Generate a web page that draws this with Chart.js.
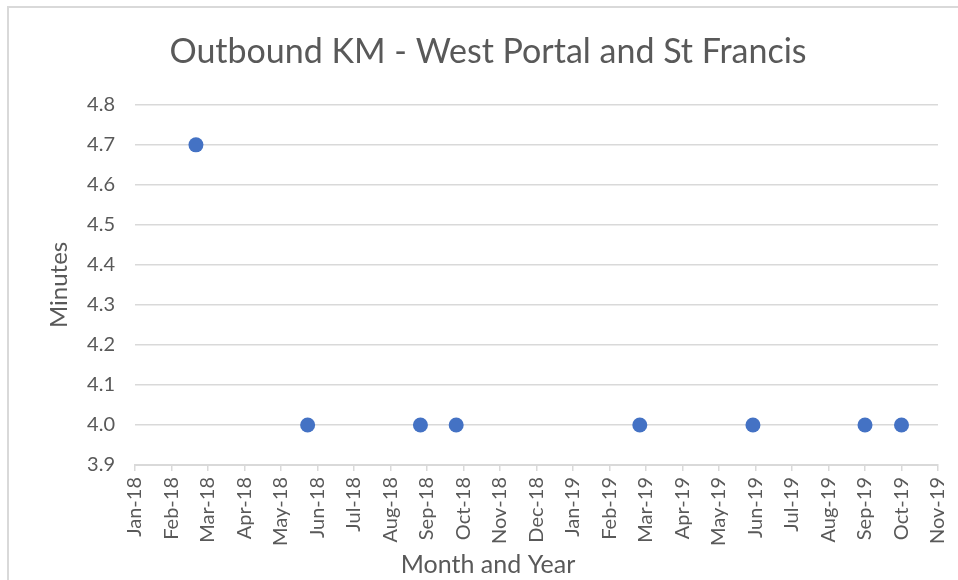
<!DOCTYPE html>
<html>
<head>
<meta charset="utf-8">
<script src="https://cdn.jsdelivr.net/npm/chart.js@4"></script>
<style>
  body { margin: 0; background: #fff; }
  #wrap { width: 958px; height: 580px; }
</style>
</head>
<body>
<div id="wrap"><canvas id="chart"></canvas></div>
<script>
// month labels on the x axis, index 0 = Jan-18
const monthLabels = ["Jan-18", "Feb-18", "Mar-18", "Apr-18", "May-18", "Jun-18", "Jul-18", "Aug-18",
  "Sep-18", "Oct-18", "Nov-18", "Dec-18", "Jan-19", "Feb-19", "Mar-19", "Apr-19", "May-19",
  "Jun-19", "Jul-19", "Aug-19", "Sep-19", "Oct-19", "Nov-19"];

// x = months since Jan-18 (fractional)
const monthPos = [1.67, 4.73, 7.82, 8.8, 13.83, 16.93, 20.0, 21.0];
const minutes = [4.7, 4.0, 4.0, 4.0, 4.0, 4.0, 4.0, 4.0];

const yTicks = [3.9, 4.0, 4.1, 4.2, 4.3, 4.4, 4.5, 4.6, 4.7, 4.8];

const points = monthPos.map((m, i) => ({ x: m, y: minutes[i] }));

const textColor = "#595959";
const gridColor = "#d9d9d9";
const fontFamily = "Lato, 'Liberation Sans', sans-serif";

// light frame (top and left edges only, like the screenshot)
const framePlugin = {
  id: "frame",
  beforeDraw(chart) {
    const ctx = chart.ctx;
    ctx.save();
    ctx.fillStyle = "#fff";
    ctx.fillRect(0, 0, chart.width, chart.height);
    ctx.strokeStyle = "#d9d9d9";
    ctx.lineWidth = 2;
    ctx.beginPath();
    ctx.moveTo(8, chart.height);
    ctx.lineTo(8, 7);
    ctx.lineTo(chart.width, 7);
    ctx.stroke();
    ctx.restore();
  }
};

new Chart(document.getElementById("chart"), {
  type: "scatter",
  data: {
    datasets: [{
      label: "Minutes",
      data: points,
      backgroundColor: "#4472C4",
      borderColor: "#4472C4",
      borderWidth: 0,
      pointRadius: 7.5,
      pointHoverRadius: 7.5
    }]
  },
  options: {
    responsive: true,
    maintainAspectRatio: false,
    animation: false,
    layout: { padding: { left: 38, right: 20, top: 0, bottom: 0 } },
    plugins: {
      legend: { display: false },
      tooltip: { enabled: false },
      title: {
        display: true,
        text: "Outbound KM - West Portal and St Francis",
        color: textColor,
        font: { family: fontFamily, size: 34, weight: "normal" },
        padding: { top: 32, bottom: 32 }
      },
      subtitle: {
        display: true,
        position: "bottom",
        text: "Month and Year",
        color: textColor,
        font: { family: fontFamily, size: 25, weight: "normal" },
        padding: { top: 0, bottom: 0 }
      }
    },
    scales: {
      x: {
        type: "linear",
        min: 0,
        max: monthLabels.length - 1,
        afterFit: scale => {
          scale.height = 85;
          scale.paddingLeft = 0;
          scale.paddingRight = 0;
        },
        afterBuildTicks: scale => {
          scale.ticks = monthLabels.map((l, i) => ({ value: i }));
        },
        ticks: {
          stepSize: 1,
          autoSkip: false,
          minRotation: 90,
          maxRotation: 90,
          padding: 6,
          color: textColor,
          font: { family: fontFamily, size: 20 },
          callback: v => monthLabels[v]
        },
        grid: {
          drawOnChartArea: false,
          drawTicks: true,
          tickLength: 6,
          color: gridColor,
          lineWidth: 1.5
        },
        border: { display: true, color: gridColor, width: 2 }
      },
      y: {
        min: 3.9,
        max: 4.8,
        afterFit: scale => { scale.width = 97; },
        afterBuildTicks: scale => {
          scale.ticks = yTicks.map(v => ({ value: v }));
        },
        title: {
          display: true,
          text: "Minutes",
          color: textColor,
          font: { family: fontFamily, size: 24 },
          padding: { top: 7, bottom: 0 }
        },
        ticks: {
          color: textColor,
          padding: 20,
          font: { family: fontFamily, size: 20 },
          callback: v => v.toFixed(1)
        },
        grid: { color: gridColor, lineWidth: 1.5, drawTicks: false },
        border: { display: false }
      }
    }
  },
  plugins: [framePlugin]
});
</script>
</body>
</html>
